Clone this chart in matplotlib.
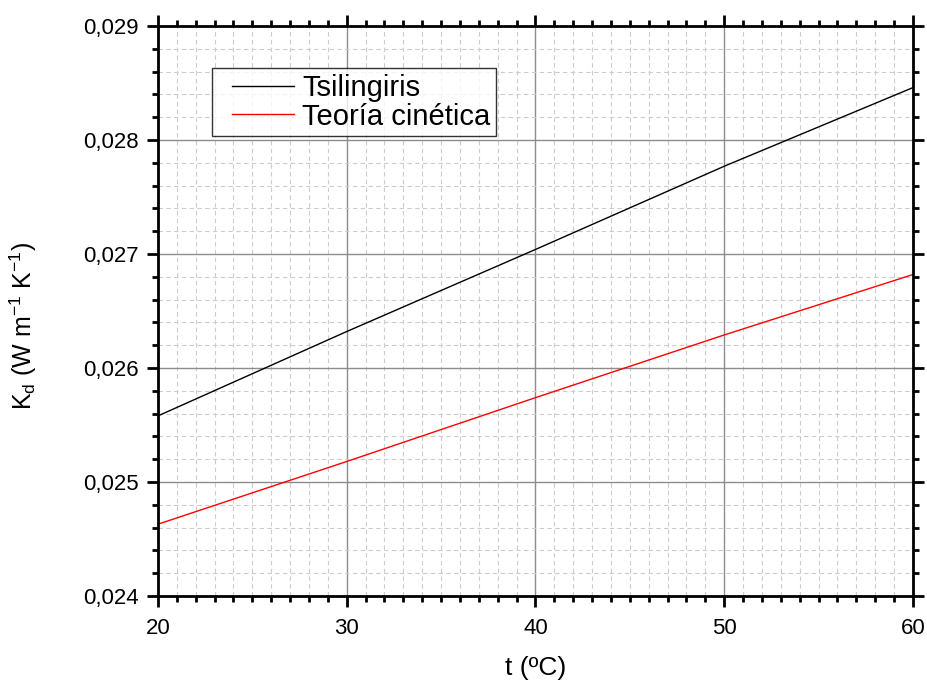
import matplotlib
matplotlib.use("Agg")
import matplotlib.pyplot as plt
from matplotlib.lines import Line2D
from matplotlib.legend_handler import HandlerLine2D
from matplotlib.ticker import MultipleLocator, FuncFormatter

plt.rcParams["font.family"] = ["Liberation Sans", "DejaVu Sans"]

# temperatura (ºC) y conductividad térmica (W m-1 K-1)
t_vals = [20, 30, 40, 50, 60]
k_tsilingiris = [0.02558, 0.02632, 0.02704, 0.02777, 0.02846]
k_teoria = [0.02463, 0.02518, 0.02574, 0.02629, 0.02682]

fig = plt.figure(figsize=(9.27, 6.81), dpi=100)
ax = fig.add_axes([0.1704, 0.1248, 0.8145, 0.837])

ax.plot(t_vals, k_tsilingiris, color="black", lw=1.0, label="Tsilingiris")
ax.plot(t_vals, k_teoria, color="red", lw=1.0, label="Teoría cinética")

ax.set_xlim(20, 60)
ax.set_ylim(0.024, 0.029)
ax.xaxis.set_major_locator(MultipleLocator(10))
ax.xaxis.set_minor_locator(MultipleLocator(1))
ax.yaxis.set_major_locator(MultipleLocator(0.001))
ax.yaxis.set_minor_locator(MultipleLocator(0.0002))
ax.yaxis.set_major_formatter(FuncFormatter(lambda v, p: f"{v:.3f}".replace(".", ",")))

ax.grid(which="major", color="#8c8c8c", lw=1.0, ls="-")
ax.grid(which="minor", color="#cccccc", lw=0.8, ls=(0, (4, 3)))
ax.set_axisbelow(True)

for s in ax.spines.values():
    s.set_linewidth(2.0)
ax.tick_params(which="both", direction="out", top=True, right=True, width=2.0, labelsize=16)
ax.tick_params(which="major", length=8)
ax.tick_params(which="minor", length=4)
ax.tick_params(axis="x", which="major", pad=8)
ax.tick_params(axis="y", which="major", pad=6)

ax.set_xlabel("t (ºC)", fontsize=19, va="top")
ax.xaxis.set_label_coords(0.5, -0.105)
ax.set_ylabel(r"K$_\mathregular{d}$ (W m$^\mathregular{-1}$ K$^\mathregular{-1}$)", fontsize=18)
ax.yaxis.set_label_coords(-0.157, 0.474)

leg = ax.legend(loc="upper left", bbox_to_anchor=(0.0715, 0.926), fontsize=21, frameon=True,
                fancybox=False, edgecolor="black", handlelength=2.6, borderpad=0.2,
                labelspacing=0.02, handletextpad=0.3, borderaxespad=0,
                handler_map={Line2D: HandlerLine2D(xpad=0.5)})
leg.get_frame().set_linewidth(1.0)

fig.savefig("out.png", dpi=100, facecolor="white")
